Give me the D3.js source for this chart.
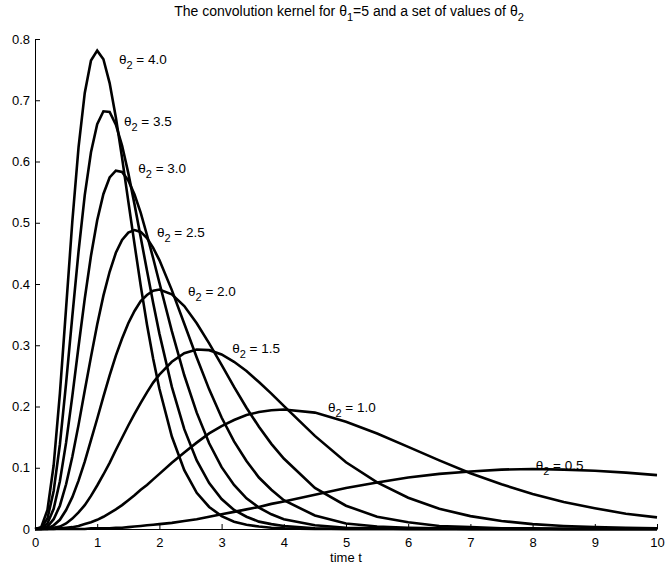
<!DOCTYPE html>
<html>
<head>
<meta charset="utf-8">
<script src="https://cdn.jsdelivr.net/npm/d3@7"></script>
<style>
  body { margin: 0; background: #fff; }
  svg { display: block; font-family: "Liberation Sans", Arial, sans-serif; }
  .axis text { font-size: 13px; fill: #000; }
  .axis path, .axis line { stroke: #000; }
</style>
</head>
<body>
<div id="chart"></div>
<script>
// time samples (finer where the curves bend sharply)
var timeT = [0, 0.1, 0.2, 0.3, 0.4, 0.5, 0.6, 0.7, 0.8, 0.9, 1.0,
  1.1, 1.2, 1.3, 1.4, 1.5, 1.6, 1.7, 1.8, 1.9, 2.0,
  2.2, 2.4, 2.6, 2.8, 3.0, 3.2, 3.4, 3.6, 3.8, 4.0,
  4.5, 5.0, 5.5, 6.0, 6.5, 7.0, 7.5, 8.0, 8.5, 9.0, 9.5, 10];

var theta2 = ["4.0", "3.5", "3.0", "2.5", "2.0", "1.5", "1.0", "0.5"];

// kernel values, one array per theta2
var k40 = [0, 0.003, 0.031, 0.104, 0.221, 0.361, 0.502, 0.623, 0.712, 0.765, 0.781,
  0.767, 0.728, 0.672, 0.606, 0.535, 0.465, 0.397, 0.334, 0.278, 0.229,
  0.151, 0.096, 0.059, 0.036, 0.021, 0.012, 0.007, 0.004, 0.002, 0.001,
  0, 0, 0, 0, 0, 0, 0, 0, 0, 0, 0, 0];
var k35 = [0, 0.002, 0.017, 0.062, 0.138, 0.238, 0.347, 0.453, 0.545, 0.615, 0.661,
  0.682, 0.681, 0.660, 0.626, 0.581, 0.530, 0.476, 0.422, 0.369, 0.319,
  0.232, 0.163, 0.112, 0.075, 0.049, 0.031, 0.020, 0.012, 0.008, 0.005,
  0.001, 0, 0, 0, 0, 0, 0, 0, 0, 0, 0, 0];
var k30 = [0, 0.001, 0.009, 0.033, 0.078, 0.141, 0.217, 0.298, 0.376, 0.446, 0.504,
  0.547, 0.574, 0.585, 0.583, 0.569, 0.546, 0.516, 0.480, 0.442, 0.402,
  0.323, 0.251, 0.190, 0.140, 0.101, 0.072, 0.050, 0.035, 0.024, 0.016,
  0.006, 0.002, 0.001, 0, 0, 0, 0, 0, 0, 0, 0, 0];
var k25 = [0, 0, 0.004, 0.016, 0.038, 0.073, 0.118, 0.170, 0.226, 0.281, 0.334,
  0.381, 0.420, 0.451, 0.472, 0.484, 0.488, 0.485, 0.475, 0.459, 0.439,
  0.390, 0.335, 0.280, 0.228, 0.182, 0.143, 0.111, 0.084, 0.064, 0.047,
  0.022, 0.009, 0.004, 0.002, 0.001, 0, 0, 0, 0, 0, 0, 0];
var k20 = [0, 0, 0.001, 0.006, 0.015, 0.031, 0.052, 0.079, 0.110, 0.145, 0.180,
  0.216, 0.251, 0.283, 0.311, 0.336, 0.356, 0.372, 0.382, 0.389, 0.391,
  0.383, 0.364, 0.336, 0.303, 0.268, 0.232, 0.198, 0.167, 0.139, 0.115,
  0.067, 0.038, 0.020, 0.011, 0.005, 0.003, 0.001, 0.001, 0, 0, 0, 0];
var k15 = [0, 0, 0, 0.002, 0.004, 0.009, 0.017, 0.027, 0.039, 0.054, 0.071,
  0.089, 0.108, 0.129, 0.149, 0.169, 0.188, 0.206, 0.223, 0.239, 0.252,
  0.273, 0.287, 0.293, 0.292, 0.285, 0.273, 0.258, 0.240, 0.221, 0.201,
  0.152, 0.109, 0.076, 0.051, 0.033, 0.021, 0.013, 0.008, 0.005, 0.003, 0.002, 0.001];
var k10 = [0, 0, 0, 0, 0.001, 0.002, 0.003, 0.005, 0.008, 0.011, 0.015,
  0.020, 0.026, 0.032, 0.039, 0.047, 0.055, 0.064, 0.072, 0.081, 0.090,
  0.108, 0.125, 0.141, 0.156, 0.168, 0.178, 0.186, 0.191, 0.194, 0.195,
  0.190, 0.175, 0.156, 0.134, 0.112, 0.091, 0.073, 0.057, 0.044, 0.034, 0.025, 0.019];
var k05 = [0, 0, 0, 0, 0, 0, 0, 0, 0, 0.001, 0.001,
  0.001, 0.001, 0.002, 0.002, 0.003, 0.004, 0.005, 0.006, 0.007, 0.008,
  0.010, 0.013, 0.016, 0.020, 0.024, 0.028, 0.032, 0.036, 0.041, 0.045,
  0.056, 0.067, 0.076, 0.084, 0.090, 0.094, 0.097, 0.098, 0.097, 0.095, 0.092, 0.088];

var kernels = [k40, k35, k30, k25, k20, k15, k10, k05];

// where each theta2 label sits (data coordinates of its left baseline)
var labelT = [1.35, 1.43, 1.66, 1.96, 2.46, 3.17, 4.71, 8.05];
var labelV = [0.759, 0.658, 0.581, 0.477, 0.380, 0.287, 0.191, 0.096];

var xTicks = [0, 1, 2, 3, 4, 5, 6, 7, 8, 9, 10];
var yTicks = [0, 0.1, 0.2, 0.3, 0.4, 0.5, 0.6, 0.7, 0.8];
var yTickLabels = ["0", "0.1", "0.2", "0.3", "0.4", "0.5", "0.6", "0.7", "0.8"];

var W = 666, H = 567;
var margin = { top: 39, right: 9, bottom: 38, left: 35 };
var width = W - margin.left - margin.right;
var height = H - margin.top - margin.bottom;

var svg = d3.select("#chart").append("svg")
  .attr("width", W)
  .attr("height", H);

var g = svg.append("g")
  .attr("transform", `translate(${margin.left},${margin.top})`);

var x = d3.scaleLinear().domain([0, 10]).range([0, width]);
var y = d3.scaleLinear().domain([0, 0.8]).range([height, 0]);

// axes, ticks pointing inward
g.append("g")
  .attr("class", "axis")
  .attr("transform", `translate(0,${height})`)
  .call(d3.axisBottom(x).tickValues(xTicks).tickFormat(d3.format("d"))
    .tickSizeInner(-5).tickSizeOuter(0).tickPadding(9));

g.append("g")
  .attr("class", "axis")
  .call(d3.axisLeft(y).tickValues(yTicks).tickFormat((d, i) => yTickLabels[i])
    .tickSizeInner(-5).tickSizeOuter(0).tickPadding(5));

// curves
var line = d3.line()
  .x((d, i) => x(timeT[i]))
  .y(d => y(d));

g.selectAll(".kernel")
  .data(kernels)
  .enter()
  .append("path")
  .attr("class", "kernel")
  .attr("d", line)
  .attr("fill", "none")
  .attr("stroke", "#000")
  .attr("stroke-width", 2.6)
  .attr("stroke-linejoin", "miter");

// theta2 labels
var lab = g.selectAll(".lab")
  .data(theta2)
  .enter()
  .append("text")
  .attr("class", "lab")
  .attr("x", (d, i) => x(labelT[i]))
  .attr("y", (d, i) => y(labelV[i]))
  .style("font-size", "13.5px");
lab.append("tspan").text("\u03b8");
lab.append("tspan").attr("dy", 5).style("font-size", "11px").text("2");
lab.append("tspan").attr("dy", -5).text(d => " = " + d);

// title
var title = svg.append("text")
  .attr("x", 349)
  .attr("y", 16)
  .attr("text-anchor", "middle")
  .style("font-size", "14px");
title.append("tspan").text("The convolution kernel for \u03b8");
title.append("tspan").attr("dy", 5).style("font-size", "11px").text("1");
title.append("tspan").attr("dy", -5).text("=5 and a set of values of \u03b8");
title.append("tspan").attr("dy", 5).style("font-size", "11px").text("2");

// x label
svg.append("text")
  .attr("x", margin.left + width / 2)
  .attr("y", 562)
  .attr("text-anchor", "middle")
  .style("font-size", "13px")
  .text("time t");
</script>
</body>
</html>
